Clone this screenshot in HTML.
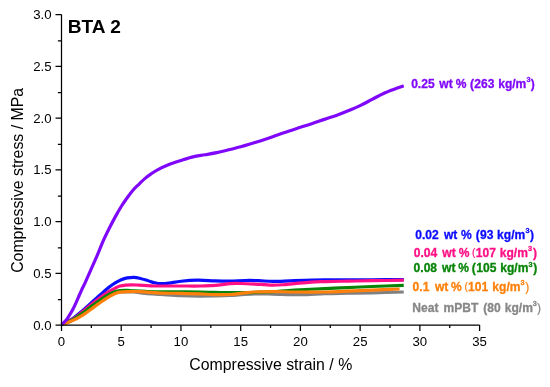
<!DOCTYPE html>
<html><head><meta charset="utf-8"><title>BTA 2</title>
<style>
html,body{margin:0;padding:0;background:#fff;}
body{width:550px;height:387px;overflow:hidden;font-family:"Liberation Sans",sans-serif;}
svg{display:block;will-change:transform;opacity:0.999}
text{font-family:"Liberation Sans",sans-serif;}
.tk{font-size:13.2px;fill:#000}
.al{font-size:15.85px;fill:#000}
.ttl{font-size:19.1px;font-weight:bold;fill:#000}
.lb{font-size:11.2px;font-weight:bold}
</style></head><body>
<svg width="550" height="387" viewBox="0 0 550 387">
<rect width="550" height="387" fill="#fff"/>
<path d="M61.50 324.50 C62.50 324.15 65.48 323.22 67.47 322.43 C69.46 321.64 71.45 320.77 73.45 319.74 C75.44 318.70 77.43 317.46 79.42 316.22 C81.41 314.98 83.40 313.67 85.39 312.29 C87.38 310.91 89.37 309.35 91.36 307.94 C93.36 306.53 95.35 305.18 97.34 303.80 C99.33 302.42 101.32 300.99 103.31 299.66 C105.30 298.33 107.29 296.90 109.28 295.83 C111.27 294.76 113.26 293.88 115.26 293.24 C117.25 292.60 118.24 292.21 121.23 292.00 C124.22 291.79 129.19 291.76 133.17 292.00 C137.16 292.24 140.48 293.04 145.12 293.45 C149.76 293.86 155.03 294.11 161.01 294.49 C166.98 294.86 174.45 295.45 180.96 295.73 C187.47 296.00 194.40 296.11 200.07 296.14 C205.74 296.18 210.03 296.04 215.00 295.93 C219.98 295.83 225.65 295.73 229.93 295.52 C234.22 295.31 236.50 294.97 240.69 294.69 C244.87 294.42 249.65 293.97 255.02 293.86 C260.40 293.76 265.37 293.93 272.94 294.07 C280.50 294.21 291.73 294.76 300.41 294.69 C309.09 294.62 317.06 293.90 325.02 293.66 C332.99 293.42 340.35 293.38 348.20 293.24 C356.04 293.11 362.83 293.04 372.09 292.83 C381.35 292.62 398.47 292.14 403.74 292.00" fill="none" stroke="#808080" stroke-width="3.2" stroke-linecap="butt" stroke-linejoin="round"/>
<path d="M61.50 324.50 C62.50 324.03 65.48 322.77 67.47 321.71 C69.46 320.64 71.45 319.48 73.45 318.08 C75.44 316.69 77.43 314.98 79.42 313.32 C81.41 311.67 83.40 309.91 85.39 308.15 C87.38 306.39 89.37 304.56 91.36 302.76 C93.36 300.97 95.35 299.16 97.34 297.38 C99.33 295.61 101.32 293.83 103.31 292.10 C105.30 290.38 107.29 288.57 109.28 287.03 C111.27 285.50 113.26 284.10 115.26 282.89 C117.25 281.69 119.24 280.62 121.23 279.79 C123.22 278.96 125.07 278.34 127.20 277.93 C129.33 277.51 131.82 277.22 134.01 277.30 C136.20 277.39 138.09 277.91 140.34 278.44 C142.59 278.98 145.12 279.79 147.51 280.51 C149.90 281.24 152.43 282.25 154.68 282.79 C156.93 283.32 158.62 283.67 161.01 283.72 C163.40 283.77 165.69 283.51 169.01 283.10 C172.34 282.69 176.18 281.72 180.96 281.24 C185.74 280.75 192.01 280.27 197.68 280.20 C203.36 280.13 209.63 280.69 215.00 280.82 C220.38 280.96 224.94 281.08 229.93 281.03 C234.93 280.98 240.21 280.58 244.99 280.51 C249.76 280.44 253.95 280.46 258.60 280.62 C263.26 280.77 266.97 281.44 272.94 281.44 C278.91 281.44 285.76 280.89 294.44 280.62 C303.12 280.34 316.06 279.93 325.02 279.79 C333.98 279.65 340.35 279.79 348.20 279.79 C356.04 279.79 362.83 279.82 372.09 279.79 C381.35 279.75 398.47 279.62 403.74 279.58" fill="none" stroke="#0c0cff" stroke-width="3.2" stroke-linecap="butt" stroke-linejoin="round"/>
<path d="M61.50 324.50 C62.50 324.07 65.48 322.88 67.47 321.91 C69.46 320.95 71.45 319.96 73.45 318.70 C75.44 317.44 77.43 315.89 79.42 314.36 C81.41 312.82 83.40 311.15 85.39 309.49 C87.38 307.84 89.37 306.06 91.36 304.42 C93.36 302.78 95.35 301.18 97.34 299.66 C99.33 298.14 101.32 296.69 103.31 295.31 C105.30 293.93 107.29 292.59 109.28 291.38 C111.27 290.17 113.46 288.96 115.26 288.07 C117.05 287.17 118.24 286.50 120.03 286.00 C121.83 285.50 124.02 285.26 126.01 285.07 C128.00 284.87 129.79 284.79 131.98 284.81 C134.17 284.82 135.96 285.01 139.15 285.17 C142.33 285.33 147.45 285.65 151.09 285.79 C154.74 285.93 156.03 285.96 161.01 286.00 C165.99 286.03 174.45 286.00 180.96 286.00 C187.47 286.00 195.09 286.07 200.07 286.00 C205.05 285.93 207.44 285.78 210.82 285.58 C214.21 285.39 217.19 285.14 220.38 284.81 C223.56 284.48 226.55 283.83 229.93 283.62 C233.32 283.40 236.50 283.44 240.69 283.51 C244.87 283.58 251.04 283.84 255.02 284.03 C259.00 284.22 261.59 284.46 264.58 284.65 C267.56 284.84 269.95 285.15 272.94 285.17 C275.93 285.19 278.91 285.01 282.50 284.76 C286.08 284.50 289.66 284.07 294.44 283.62 C299.22 283.17 306.07 282.40 311.17 282.06 C316.26 281.73 318.85 281.75 325.02 281.60 C331.19 281.44 340.35 281.28 348.20 281.13 C356.04 280.99 362.83 280.87 372.09 280.72 C381.35 280.56 398.47 280.29 403.74 280.20" fill="none" stroke="#ff1085" stroke-width="3.2" stroke-linecap="butt" stroke-linejoin="round"/>
<path d="M61.50 324.50 C62.50 324.12 65.48 323.09 67.47 322.22 C69.46 321.36 71.45 320.46 73.45 319.32 C75.44 318.19 77.43 316.77 79.42 315.39 C81.41 314.01 83.40 312.55 85.39 311.05 C87.38 309.54 89.37 307.91 91.36 306.39 C93.36 304.87 95.35 303.37 97.34 301.94 C99.33 300.51 101.32 299.09 103.31 297.80 C105.30 296.50 107.29 295.21 109.28 294.17 C111.27 293.14 113.46 292.19 115.26 291.59 C117.05 290.98 118.04 290.76 120.03 290.55 C122.02 290.35 125.01 290.31 127.20 290.35 C129.39 290.38 130.19 290.59 133.17 290.76 C136.16 290.93 140.48 291.19 145.12 291.38 C149.76 291.57 155.03 291.83 161.01 291.90 C166.98 291.97 174.45 291.78 180.96 291.79 C187.47 291.81 194.40 291.90 200.07 292.00 C205.74 292.10 210.03 292.31 215.00 292.42 C219.98 292.52 224.86 292.59 229.93 292.62 C235.01 292.66 240.69 292.69 245.46 292.62 C250.24 292.55 254.03 292.38 258.60 292.21 C263.18 292.04 266.97 291.95 272.94 291.59 C278.91 291.22 285.76 290.53 294.44 290.03 C303.12 289.53 316.06 289.00 325.02 288.59 C333.98 288.17 340.35 287.90 348.20 287.55 C356.04 287.21 362.83 286.88 372.09 286.52 C381.35 286.15 398.47 285.57 403.74 285.38" fill="none" stroke="#088508" stroke-width="3.2" stroke-linecap="butt" stroke-linejoin="round"/>
<path d="M61.50 324.50 C62.50 324.19 65.48 323.36 67.47 322.64 C69.46 321.91 71.45 321.08 73.45 320.15 C75.44 319.22 77.43 318.19 79.42 317.05 C81.41 315.91 83.40 314.67 85.39 313.32 C87.38 311.98 89.37 310.42 91.36 308.98 C93.36 307.53 95.35 306.04 97.34 304.63 C99.33 303.21 101.32 301.83 103.31 300.49 C105.30 299.14 107.29 297.73 109.28 296.56 C111.27 295.38 113.46 294.19 115.26 293.45 C117.05 292.71 118.04 292.42 120.03 292.10 C122.02 291.79 123.88 291.67 127.20 291.59 C130.53 291.50 136.00 291.45 139.98 291.59 C143.97 291.73 147.59 292.17 151.09 292.42 C154.60 292.66 156.03 292.86 161.01 293.04 C165.99 293.21 174.45 293.29 180.96 293.45 C187.47 293.61 194.40 293.78 200.07 293.97 C205.74 294.16 210.03 294.50 215.00 294.59 C219.98 294.67 225.65 294.67 229.93 294.49 C234.22 294.30 236.50 293.86 240.69 293.45 C244.87 293.04 249.65 292.31 255.02 292.00 C260.40 291.69 266.37 291.59 272.94 291.59 C279.51 291.59 285.76 291.93 294.44 292.00 C303.12 292.07 316.06 292.14 325.02 292.00 C333.98 291.86 340.35 291.50 348.20 291.17 C356.04 290.85 363.53 290.40 372.09 290.03 C380.65 289.67 394.98 289.17 399.56 289.00" fill="none" stroke="#ff800a" stroke-width="3.2" stroke-linecap="butt" stroke-linejoin="round"/>
<path d="M61.50 324.50 C62.00 324.07 63.49 322.95 64.49 321.91 C65.48 320.88 65.98 320.57 67.47 318.29 C68.97 316.01 71.45 312.13 73.45 308.25 C75.44 304.37 77.93 298.33 79.42 295.00 C80.91 291.67 81.41 290.43 82.41 288.27 C83.40 286.12 83.90 285.34 85.39 282.06 C86.88 278.79 89.37 273.10 91.36 268.61 C93.36 264.12 95.35 259.81 97.34 255.16 C99.33 250.50 101.32 245.15 103.31 240.66 C105.30 236.18 107.29 232.21 109.28 228.25 C111.27 224.28 113.26 220.48 115.26 216.86 C117.25 213.24 119.24 209.70 121.23 206.51 C123.22 203.32 125.21 200.47 127.20 197.71 C129.19 194.95 131.18 192.23 133.17 189.95 C135.17 187.67 137.16 185.98 139.15 184.05 C141.14 182.12 143.13 180.05 145.12 178.36 C147.11 176.67 149.10 175.29 151.09 173.91 C153.08 172.53 154.08 171.63 157.07 170.08 C160.05 168.53 165.03 166.20 169.01 164.59 C172.99 162.99 176.98 161.75 180.96 160.45 C184.94 159.16 188.92 157.78 192.90 156.83 C196.88 155.88 200.87 155.45 204.85 154.76 C208.83 154.07 212.81 153.52 216.79 152.69 C220.78 151.86 224.76 150.79 228.74 149.79 C232.72 148.79 236.70 147.79 240.69 146.69 C244.67 145.58 248.65 144.36 252.63 143.17 C256.61 141.98 260.60 140.86 264.58 139.55 C268.56 138.23 272.54 136.70 276.52 135.30 C280.50 133.90 284.49 132.49 288.47 131.16 C292.45 129.83 296.43 128.61 300.41 127.33 C304.40 126.06 308.38 124.83 312.36 123.50 C316.34 122.17 320.32 120.71 324.31 119.36 C328.29 118.02 332.27 116.86 336.25 115.43 C340.23 114.00 344.22 112.41 348.20 110.77 C352.18 109.13 356.16 107.49 360.14 105.60 C364.12 103.70 368.11 101.46 372.09 99.39 C376.07 97.32 380.05 94.99 384.03 93.18 C388.02 91.37 392.69 89.76 395.98 88.52 C399.27 87.28 402.45 86.19 403.74 85.73" fill="none" stroke="#8008fa" stroke-width="3.2" stroke-linecap="butt" stroke-linejoin="round"/>
<path d="M61.50 14.50 V325.00 H479.60" fill="none" stroke="#000" stroke-width="1.25"/>
<path d="M55.50 325.00 h6.0 M57.90 299.73 h3.6 M55.50 273.25 h6.0 M57.90 247.97 h3.6 M55.50 221.50 h6.0 M57.90 196.22 h3.6 M55.50 169.75 h6.0 M57.90 144.47 h3.6 M55.50 118.00 h6.0 M57.90 92.72 h3.6 M55.50 66.25 h6.0 M57.90 40.98 h3.6 M55.50 14.50 h6.0 M61.50 325.00 v6 M91.36 325.00 v3 M121.23 325.00 v6 M151.09 325.00 v3 M180.96 325.00 v6 M210.82 325.00 v3 M240.69 325.00 v6 M270.55 325.00 v3 M300.41 325.00 v6 M330.28 325.00 v3 M360.14 325.00 v6 M390.01 325.00 v3 M419.87 325.00 v6 M449.74 325.00 v3 M479.60 325.00 v6" fill="none" stroke="#000" stroke-width="1.25"/>
<text x="51.5" y="329.70" text-anchor="end" class="tk">0.0</text>
<text x="51.5" y="277.95" text-anchor="end" class="tk">0.5</text>
<text x="51.5" y="226.20" text-anchor="end" class="tk">1.0</text>
<text x="51.5" y="174.45" text-anchor="end" class="tk">1.5</text>
<text x="51.5" y="122.70" text-anchor="end" class="tk">2.0</text>
<text x="51.5" y="70.95" text-anchor="end" class="tk">2.5</text>
<text x="51.5" y="19.20" text-anchor="end" class="tk">3.0</text>
<text x="61.50" y="345.6" text-anchor="middle" class="tk">0</text>
<text x="121.23" y="345.6" text-anchor="middle" class="tk">5</text>
<text x="180.96" y="345.6" text-anchor="middle" class="tk">10</text>
<text x="240.69" y="345.6" text-anchor="middle" class="tk">15</text>
<text x="300.41" y="345.6" text-anchor="middle" class="tk">20</text>
<text x="360.14" y="345.6" text-anchor="middle" class="tk">25</text>
<text x="419.87" y="345.6" text-anchor="middle" class="tk">30</text>
<text x="479.60" y="345.6" text-anchor="middle" class="tk">35</text>
<text x="270.8" y="370" text-anchor="middle" class="al">Compressive strain / %</text>
<text transform="translate(22.7,180.4) rotate(-90)" text-anchor="middle" class="al">Compressive stress / MPa</text>
<text x="67.8" y="33.2" class="ttl">BTA 2</text>
<text x="411.15" y="87.50" font-size="12.05" font-weight="bold" fill="#8008fa" stroke="#8008fa" stroke-width="0.3">0.25</text>
<text x="439.30" y="87.50" font-size="12.05" font-weight="bold" fill="#8008fa" stroke="#8008fa" stroke-width="0.3">wt</text>
<text x="455.80" y="87.50" font-size="12.05" font-weight="bold" fill="#8008fa" stroke="#8008fa" stroke-width="0.3">%</text>
<text x="469.90" y="87.50" font-size="12.05" font-weight="bold" fill="#8008fa" stroke="#8008fa" stroke-width="0.3">(</text>
<text x="474.31" y="87.50" font-size="12.05" font-weight="bold" fill="#8008fa" stroke="#8008fa" stroke-width="0.3">263</text>
<text x="498.19" y="87.50" font-size="12.05" font-weight="bold" fill="#8008fa" stroke="#8008fa" stroke-width="0.3">kg/m</text>
<text x="526.52" y="81.90" font-size="7.30" font-weight="bold" fill="#8008fa" stroke="#8008fa" stroke-width="0.3">3</text>
<text x="530.84" y="87.50" font-size="12.05" font-weight="bold" fill="#8008fa" stroke="#8008fa" stroke-width="0.3">)</text>
<text x="415.28" y="238.70" font-size="12.05" font-weight="bold" fill="#0c0cff" stroke="#0c0cff" stroke-width="0.3">0.02</text>
<text x="443.90" y="238.70" font-size="12.05" font-weight="bold" fill="#0c0cff" stroke="#0c0cff" stroke-width="0.3">wt</text>
<text x="460.95" y="238.70" font-size="12.05" font-weight="bold" fill="#0c0cff" stroke="#0c0cff" stroke-width="0.3">%</text>
<text x="475.70" y="238.70" font-size="12.05" font-weight="bold" fill="#0c0cff" stroke="#0c0cff" stroke-width="0.3">(</text>
<text x="480.01" y="238.70" font-size="12.05" font-weight="bold" fill="#0c0cff" stroke="#0c0cff" stroke-width="0.3">93</text>
<text x="497.09" y="238.70" font-size="12.05" font-weight="bold" fill="#0c0cff" stroke="#0c0cff" stroke-width="0.3">kg/m</text>
<text x="525.47" y="233.10" font-size="7.30" font-weight="bold" fill="#0c0cff" stroke="#0c0cff" stroke-width="0.3">3</text>
<text x="529.94" y="238.70" font-size="12.05" font-weight="bold" fill="#0c0cff" stroke="#0c0cff" stroke-width="0.3">)</text>
<text x="413.82" y="256.70" font-size="12.05" font-weight="bold" fill="#ff1085" stroke="#ff1085" stroke-width="0.3">0.04</text>
<text x="442.35" y="256.70" font-size="12.05" font-weight="bold" fill="#ff1085" stroke="#ff1085" stroke-width="0.3">wt</text>
<text x="458.85" y="256.70" font-size="12.05" font-weight="bold" fill="#ff1085" stroke="#ff1085" stroke-width="0.3">%</text>
<text x="471.97" y="256.40" font-size="10.20" font-weight="normal" fill="#ff1085" stroke="#ff1085" stroke-width="0.2">(</text>
<text x="475.78" y="256.70" font-size="12.05" font-weight="bold" fill="#ff1085" stroke="#ff1085" stroke-width="0.3">107</text>
<text x="499.79" y="256.70" font-size="12.05" font-weight="bold" fill="#ff1085" stroke="#ff1085" stroke-width="0.3">kg/m</text>
<text x="528.02" y="251.10" font-size="7.30" font-weight="bold" fill="#ff1085" stroke="#ff1085" stroke-width="0.3">3</text>
<text x="532.89" y="256.70" font-size="12.05" font-weight="bold" fill="#ff1085" stroke="#ff1085" stroke-width="0.3">)</text>
<text x="413.62" y="272.40" font-size="12.05" font-weight="bold" fill="#088508" stroke="#088508" stroke-width="0.3">0.08</text>
<text x="442.10" y="272.40" font-size="12.05" font-weight="bold" fill="#088508" stroke="#088508" stroke-width="0.3">wt</text>
<text x="458.25" y="272.40" font-size="12.05" font-weight="bold" fill="#088508" stroke="#088508" stroke-width="0.3">%</text>
<text x="471.80" y="272.40" font-size="12.05" font-weight="bold" fill="#088508" stroke="#088508" stroke-width="0.3">(</text>
<text x="476.29" y="272.40" font-size="12.05" font-weight="bold" fill="#088508" stroke="#088508" stroke-width="0.3">105</text>
<text x="500.24" y="272.40" font-size="12.05" font-weight="bold" fill="#088508" stroke="#088508" stroke-width="0.3">kg/m</text>
<text x="528.62" y="266.80" font-size="7.30" font-weight="bold" fill="#088508" stroke="#088508" stroke-width="0.3">3</text>
<text x="533.19" y="272.40" font-size="12.05" font-weight="bold" fill="#088508" stroke="#088508" stroke-width="0.3">)</text>
<text x="412.60" y="290.70" font-size="12.05" font-weight="bold" fill="#ff800a" stroke="#ff800a" stroke-width="0.3">0.1</text>
<text x="434.90" y="290.70" font-size="12.05" font-weight="bold" fill="#ff800a" stroke="#ff800a" stroke-width="0.3">wt</text>
<text x="451.10" y="290.70" font-size="12.05" font-weight="bold" fill="#ff800a" stroke="#ff800a" stroke-width="0.3">%</text>
<text x="464.47" y="290.40" font-size="10.20" font-weight="normal" fill="#ff800a" stroke="#ff800a" stroke-width="0.2">(</text>
<text x="468.04" y="290.70" font-size="12.05" font-weight="bold" fill="#ff800a" stroke="#ff800a" stroke-width="0.3">101</text>
<text x="492.34" y="290.70" font-size="12.05" font-weight="bold" fill="#ff800a" stroke="#ff800a" stroke-width="0.3">kg/m</text>
<text x="520.57" y="285.10" font-size="7.30" font-weight="bold" fill="#ff800a" stroke="#ff800a" stroke-width="0.3">3</text>
<text x="525.13" y="290.70" font-size="12.05" font-weight="normal" fill="#ff800a" stroke="#ff800a" stroke-width="0.2">)</text>
<text x="412.36" y="311.70" font-size="12.05" font-weight="bold" fill="#878787" stroke="#878787" stroke-width="0.3">Neat</text>
<text x="443.56" y="311.70" font-size="12.05" font-weight="bold" fill="#878787" stroke="#878787" stroke-width="0.3">mPBT</text>
<text x="483.15" y="311.70" font-size="12.05" font-weight="bold" fill="#878787" stroke="#878787" stroke-width="0.3">(</text>
<text x="487.20" y="311.70" font-size="12.05" font-weight="bold" fill="#878787" stroke="#878787" stroke-width="0.3">80</text>
<text x="504.79" y="311.70" font-size="12.05" font-weight="bold" fill="#878787" stroke="#878787" stroke-width="0.3">kg/m</text>
<text x="532.87" y="306.10" font-size="7.30" font-weight="bold" fill="#878787" stroke="#878787" stroke-width="0.3">3</text>
<text x="536.98" y="311.70" font-size="12.05" font-weight="normal" fill="#878787" stroke="#878787" stroke-width="0.2">)</text>
</svg>
</body></html>
